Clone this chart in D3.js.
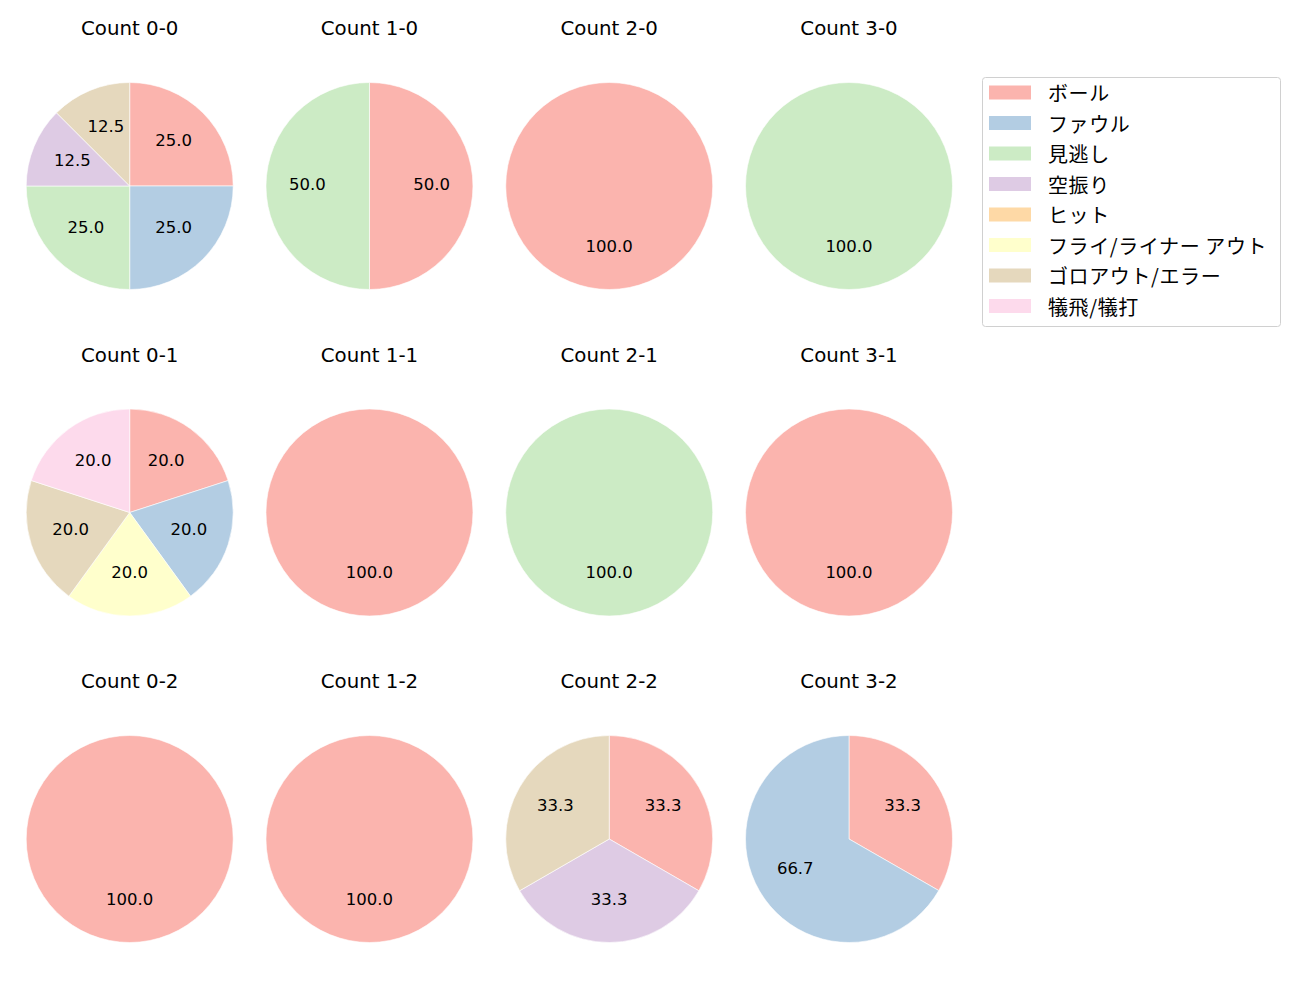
<!DOCTYPE html>
<html><head><meta charset="utf-8">
<script src="https://cdn.jsdelivr.net/npm/d3@7"></script>
<style>body{margin:0;background:#fff;}svg{font-family:"DejaVu Sans","Noto Sans CJK JP",sans-serif;}</style>
</head><body>
<svg id="c" width="1300" height="1000"></svg>
<script>
const categories = ["ボール","ファウル","見逃し","空振り","ヒット","フライ/ライナー アウト","ゴロアウト/エラー","犠飛/犠打"];
const colors = ["#fbb4ae","#b3cde3","#ccebc5","#decbe4","#fed9a6","#ffffcc","#e5d8bd","#fddaec"];
const titles = ["Count 0-0","Count 1-0","Count 2-0","Count 3-0","Count 0-1","Count 1-1","Count 2-1","Count 3-1","Count 0-2","Count 1-2","Count 2-2","Count 3-2"];
// percentages per category, in category order
const count00 = [25,25,25,12.5,0,0,12.5,0];
const count10 = [50,0,50,0,0,0,0,0];
const count20 = [100,0,0,0,0,0,0,0];
const count30 = [0,0,100,0,0,0,0,0];
const count01 = [20,20,0,0,0,20,20,20];
const count11 = [100,0,0,0,0,0,0,0];
const count21 = [0,0,100,0,0,0,0,0];
const count31 = [100,0,0,0,0,0,0,0];
const count02 = [100,0,0,0,0,0,0,0];
const count12 = [100,0,0,0,0,0,0,0];
const count22 = [33.3,0,0,33.3,0,0,33.3,0];
const count32 = [33.3,66.7,0,0,0,0,0,0];
const allCounts = [count00,count10,count20,count30,count01,count11,count21,count31,count02,count12,count22,count32];

const svg = d3.select("#c");
const colX = d3.scaleLinear().domain([0,3]).range([129.7,849]);
const rowY = d3.scaleLinear().domain([0,2]).range([186,839]);
const R = 103.5;
const color = d3.scaleOrdinal().domain(categories).range(colors);
const pie = d3.pie().sort(null).value(d=>d.v);
const arc = d3.arc().innerRadius(0).outerRadius(R);
const labelArc = d3.arc().innerRadius(R*0.6).outerRadius(R*0.6);

allCounts.forEach((vals,i)=>{
  const c = i%4, r = Math.floor(i/4);
  const g = svg.append("g").attr("transform",`translate(${colX(c)},${rowY(r)})`);
  const data = categories.map((k,j)=>({k, v: vals[j]})).filter(d=>d.v>0);
  const arcs = pie(data);
  g.selectAll("path").data(arcs).join("path")
    .attr("d",arc).attr("fill",d=>color(d.data.k))
    .attr("stroke","#fff").attr("stroke-width",0.6).attr("stroke-linejoin","round");
  g.selectAll("text.l").data(arcs).join("text").attr("class","l")
    .attr("transform",d=>{const p=labelArc.centroid(d); return `translate(${p[0]},${p[1]+3.5})`;})
    .attr("text-anchor","middle")
    .attr("font-size",16.5).attr("fill","#000")
    .text(d=>d3.format(".1f")(d.data.v));
  g.append("text").attr("x",0).attr("y",-150.8).attr("text-anchor","middle")
    .attr("font-size",19.8).attr("fill","#000")
    .text(titles[i]);
});

// legend
const lg = svg.append("g").attr("transform","translate(982,77)");
lg.append("rect").attr("x",0.5).attr("y",0.5).attr("width",298).attr("height",249).attr("rx",3)
  .attr("fill","#fff").attr("stroke","#d0d0d0").attr("stroke-width",1);
const ly = d3.scaleLinear().domain([0,7]).range([15.5,229]);
categories.forEach((k,j)=>{
  lg.append("rect").attr("x",7).attr("y",ly(j)-7).attr("width",42).attr("height",14).attr("fill",color(k));
  lg.append("text").attr("x",66).attr("y",ly(j)).attr("dominant-baseline","central")
    .attr("font-family","'Noto Sans CJK JP','DejaVu Sans',sans-serif")
    .attr("font-size",20).attr("letter-spacing",0.6).attr("fill","#000").text(k);
});
</script>
</body></html>
